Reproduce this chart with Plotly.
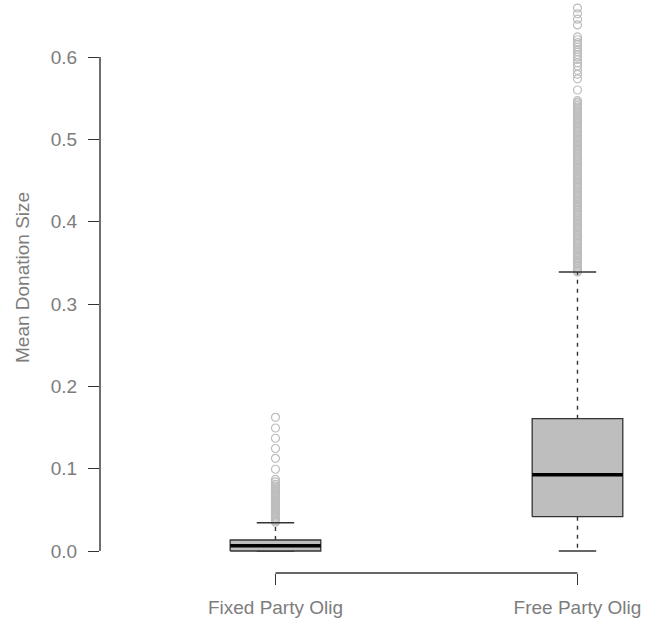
import plotly.graph_objects as go

# ---- data ----
groups = ["Fixed Party Olig", "Free Party Olig"]
positions = [1, 2]
q1 = [0.0, 0.0417]
median = [0.0064, 0.0927]
q3 = [0.0134, 0.1607]
lower_fence = [0.0, 0.0]
upper_fence = [0.0344, 0.339]

fixed_outliers = [0.1624, 0.1494, 0.137, 0.1245, 0.1126, 0.0993,
                  0.087, 0.084, 0.081, 0.079, 0.077,
                  0.0755, 0.074, 0.0725, 0.071, 0.0695, 0.068, 0.0665, 0.065,
                  0.0635, 0.062, 0.0605, 0.059, 0.0575, 0.056, 0.0545, 0.053,
                  0.0515, 0.050, 0.0485, 0.047, 0.0455, 0.044, 0.0425, 0.041,
                  0.0395, 0.038, 0.0365, 0.035]

free_outliers = [0.6595, 0.6525, 0.646, 0.639,
                 0.6245, 0.621, 0.6175, 0.615, 0.612, 0.609, 0.606, 0.603,
                 0.600, 0.597, 0.593, 0.589, 0.584, 0.579, 0.5735,
                 0.560,
                 0.547, 0.545, 0.543, 0.541, 0.539, 0.537, 0.535, 0.533, 0.531,
                 0.529, 0.527, 0.525, 0.523, 0.521, 0.519, 0.517, 0.515, 0.513,
                 0.511, 0.509, 0.507, 0.505, 0.503, 0.501, 0.499, 0.497, 0.495,
                 0.493, 0.491, 0.489, 0.487, 0.485, 0.483, 0.481, 0.479, 0.477,
                 0.475, 0.473, 0.471, 0.469, 0.467, 0.465, 0.463, 0.461, 0.459,
                 0.457, 0.455, 0.453, 0.451, 0.449, 0.447, 0.445, 0.443, 0.441,
                 0.439, 0.437, 0.435, 0.433, 0.431, 0.429, 0.427, 0.425, 0.423,
                 0.421, 0.419, 0.417, 0.415, 0.413, 0.411, 0.409, 0.407, 0.405,
                 0.403, 0.401, 0.399, 0.397, 0.395, 0.393, 0.391, 0.389, 0.387,
                 0.385, 0.383, 0.381, 0.379, 0.377, 0.375, 0.373, 0.371, 0.369,
                 0.367, 0.365, 0.363, 0.361, 0.359, 0.357, 0.355, 0.353, 0.351,
                 0.349, 0.347, 0.345, 0.343, 0.341, 0.339]
outliers = [fixed_outliers, free_outliers]

y_tickvals = [0.0, 0.1, 0.2, 0.3, 0.4, 0.5, 0.6]
y_ticktext = ["0.0", "0.1", "0.2", "0.3", "0.4", "0.5", "0.6"]
y_title = "Mean Donation Size"

# ---- styles ----
BOX_HW = 0.15
CAP_HW = 0.062
LINE = "#333333"
FILL = "#bebebe"
OUT = "#bdbdbd"
TEXT = "#7d7d7d"
FONT = "Liberation Sans, Arial, sans-serif"
FS = 19

fig = go.Figure()

for i, p in enumerate(positions):
    fig.add_trace(go.Scatter(
        x=[p] * len(outliers[i]), y=outliers[i], mode="markers",
        marker=dict(symbol="circle-open", size=8, color=OUT,
                    line=dict(width=1.2, color=OUT)),
        showlegend=False, hoverinfo="y"))
    fig.add_trace(go.Scatter(
        x=[p, p, None, p, p],
        y=[q3[i], upper_fence[i], None, q1[i], lower_fence[i]],
        mode="lines", line=dict(color=LINE, width=1.4, dash="4px,5px"),
        showlegend=False, hoverinfo="skip"))
    fig.add_trace(go.Scatter(
        x=[p - CAP_HW, p + CAP_HW, None, p - CAP_HW, p + CAP_HW],
        y=[upper_fence[i], upper_fence[i], None, lower_fence[i], lower_fence[i]],
        mode="lines", line=dict(color=LINE, width=1.4),
        showlegend=False, hoverinfo="skip"))
    fig.add_trace(go.Scatter(
        x=[p - BOX_HW, p + BOX_HW, p + BOX_HW, p - BOX_HW, p - BOX_HW],
        y=[q1[i], q1[i], q3[i], q3[i], q1[i]],
        mode="lines", fill="toself", fillcolor=FILL,
        line=dict(color=LINE, width=1.3),
        showlegend=False, hoverinfo="skip"))
    fig.add_trace(go.Scatter(
        x=[p - BOX_HW, p + BOX_HW], y=[median[i], median[i]],
        mode="lines", line=dict(color="#000000", width=3.4),
        showlegend=False, hoverinfo="skip"))

# axis line segments (R style)
fig.add_shape(type="line", xref="paper", yref="y", x0=0, x1=0,
              y0=y_tickvals[0], y1=y_tickvals[-1],
              line=dict(color=LINE, width=1.4))
fig.add_shape(type="line", xref="x", yref="paper", x0=positions[0], x1=positions[-1],
              y0=0, y1=0, line=dict(color=LINE, width=1.4))

# y axis title
fig.add_annotation(text=y_title, textangle=-90, xref="paper", yref="paper",
                   x=(22 - 100) / 558, y=(573 - 278) / 573,
                   xanchor="center", yanchor="middle", showarrow=False,
                   font=dict(family=FONT, size=FS, color=TEXT))

fig.update_layout(
    width=658, height=629,
    margin=dict(l=100, r=0, t=0, b=56),
    plot_bgcolor="white", paper_bgcolor="white",
    font=dict(family=FONT, size=FS, color=TEXT),
    showlegend=False,
    xaxis=dict(range=[0.419, 2.2666], tickmode="array", tickvals=positions,
               ticktext=groups, showgrid=False, zeroline=False, showline=False,
               ticks="outside", ticklen=11, tickwidth=1.4, tickcolor=LINE,
               ticklabelstandoff=6,
               tickfont=dict(size=FS, color=TEXT)),
    yaxis=dict(range=[-0.0267, 0.6693], tickmode="array", tickvals=y_tickvals,
               ticktext=y_ticktext, showgrid=False, zeroline=False, showline=False,
               ticks="outside", ticklen=11, tickwidth=1.4, tickcolor=LINE,
               ticklabelstandoff=7,
               tickfont=dict(size=FS, color=TEXT)),
)

fig.write_html("out.html")
